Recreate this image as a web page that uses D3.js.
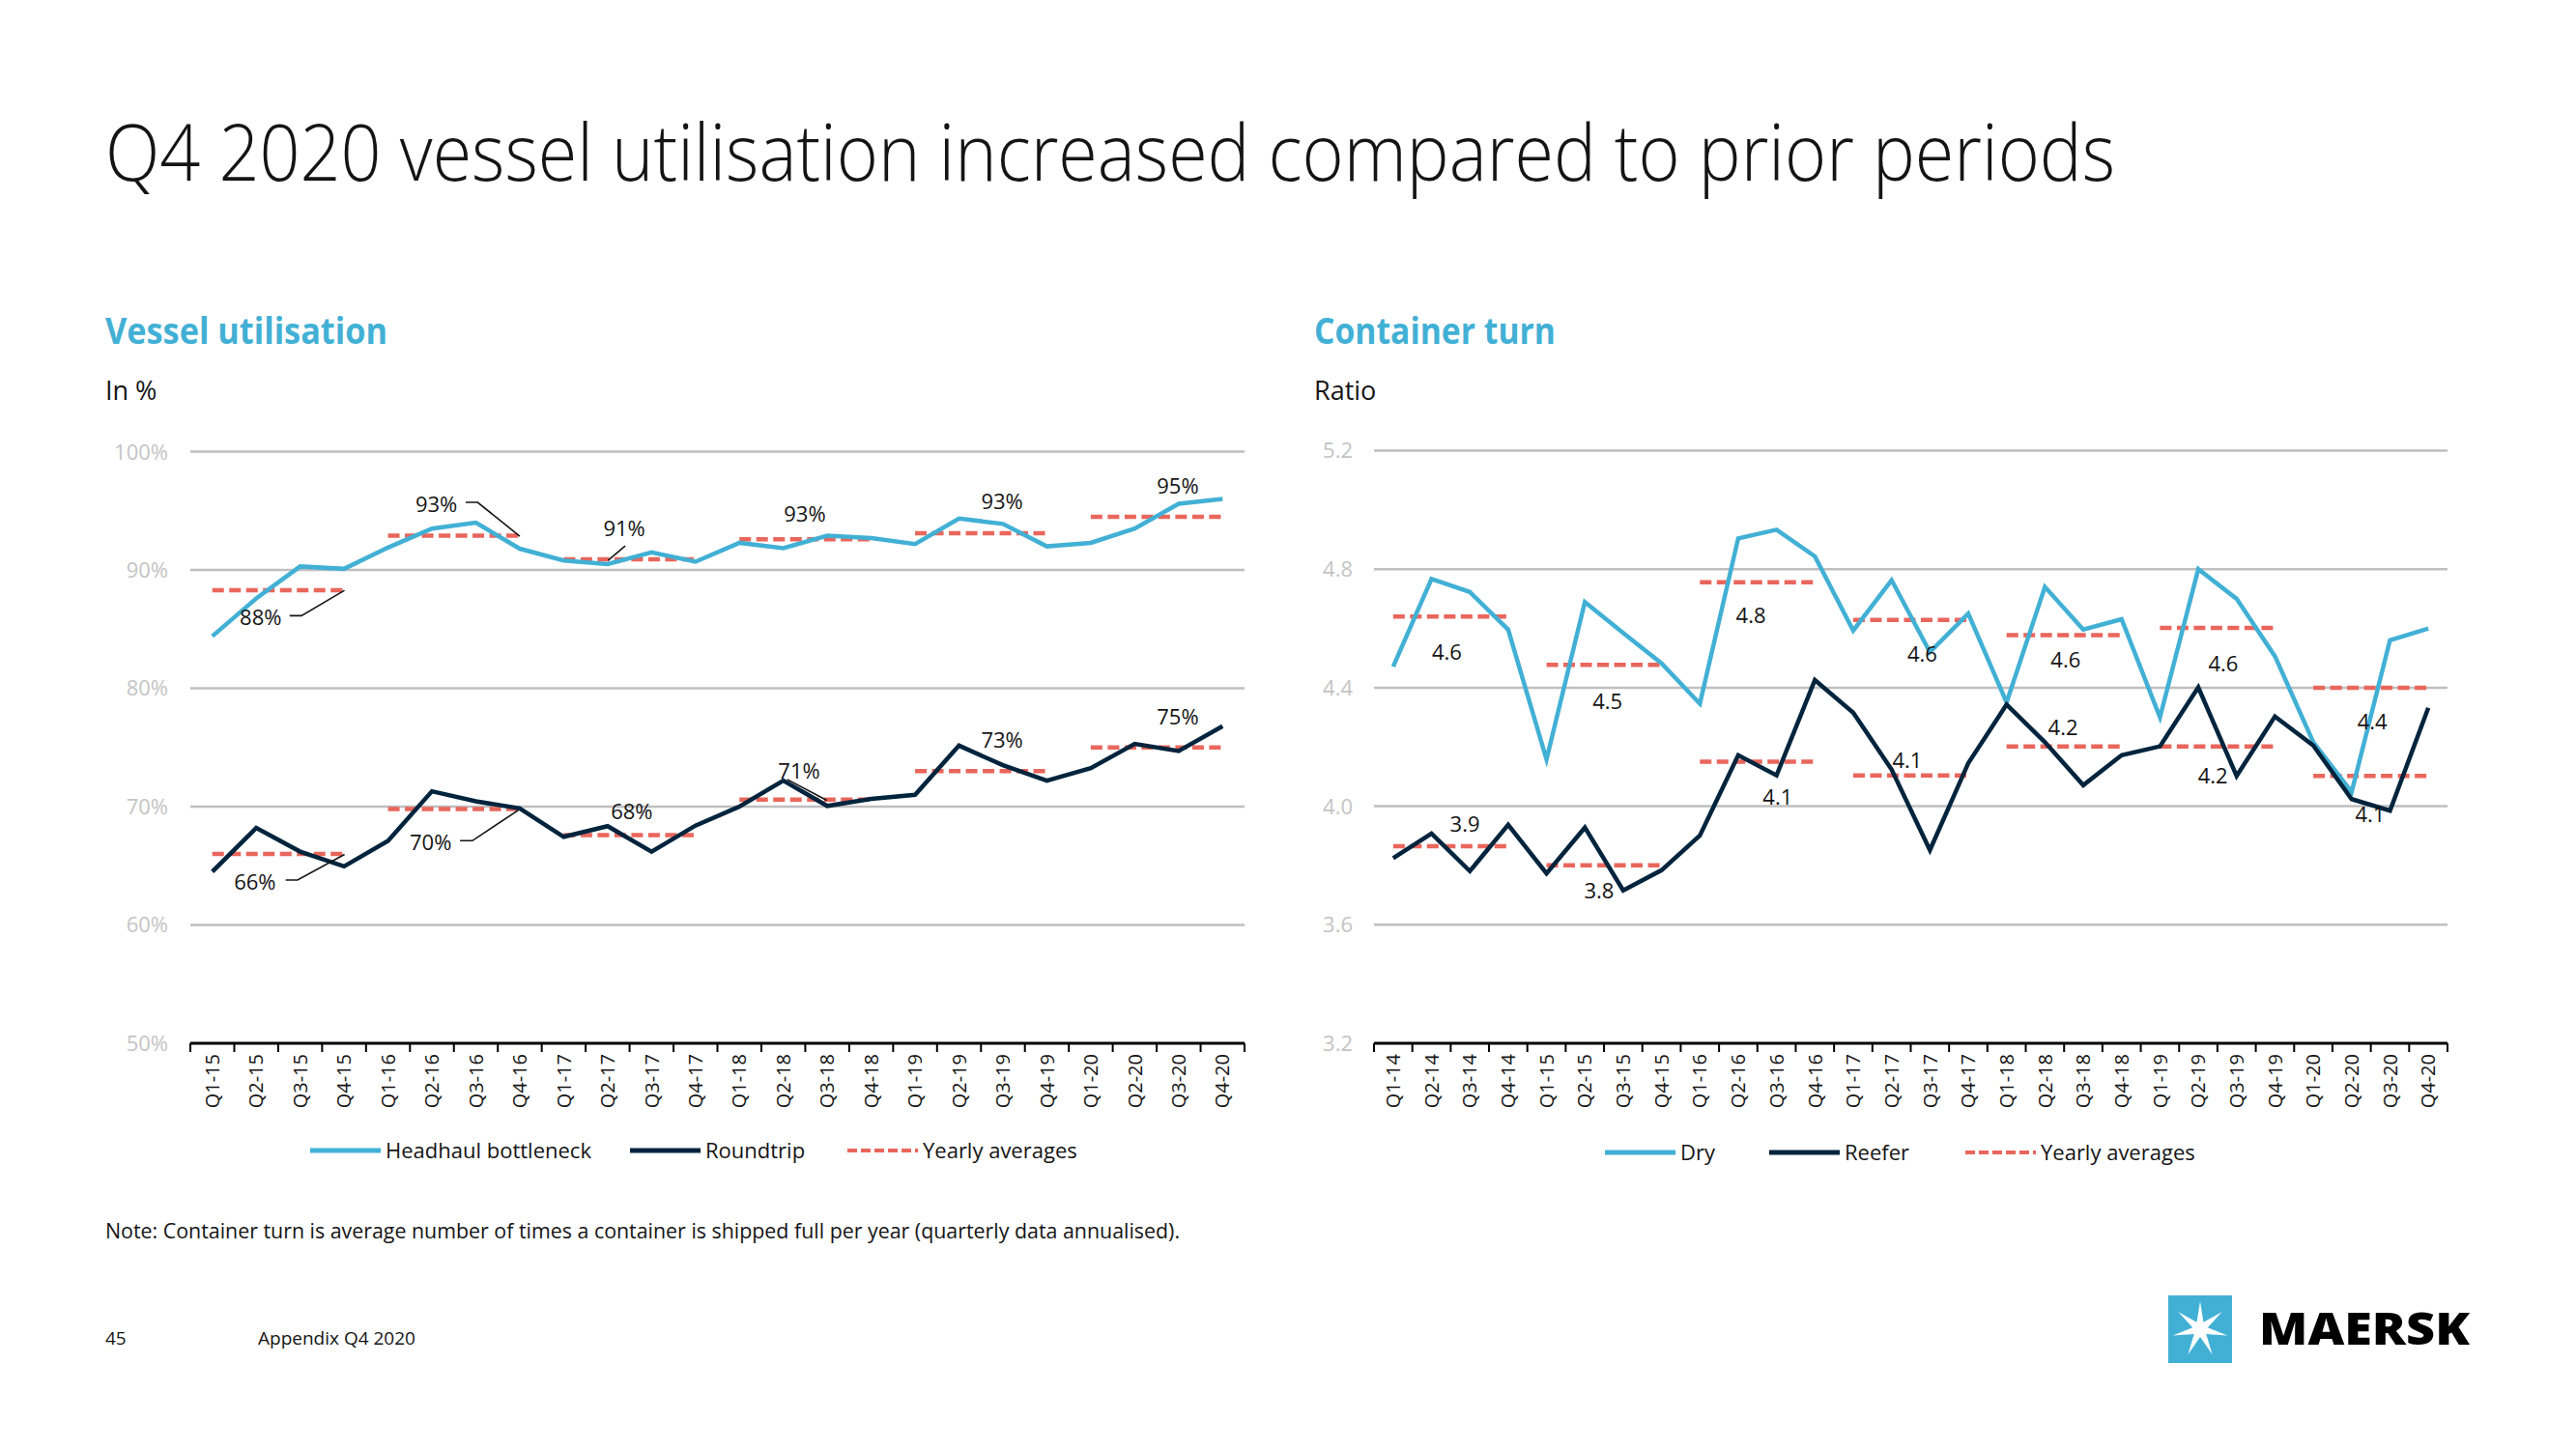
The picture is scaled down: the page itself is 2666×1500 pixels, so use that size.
<!DOCTYPE html>
<html>
<head>
<meta charset="utf-8">
<script src="https://cdn.jsdelivr.net/npm/d3@7/dist/d3.min.js"></script>
<style>
  html, body { margin: 0; padding: 0; background: #fff; }
  svg { display: block; }
  text { font-family: "Open Sans", "Noto Sans", sans-serif; }
</style>
</head>
<body>
<svg id="chart" width="2666" height="1500"></svg>
<script>
// ---------------- DATA ----------------
const quartersL = ["Q1-15","Q2-15","Q3-15","Q4-15","Q1-16","Q2-16","Q3-16","Q4-16","Q1-17","Q2-17","Q3-17","Q4-17",
                   "Q1-18","Q2-18","Q3-18","Q4-18","Q1-19","Q2-19","Q3-19","Q4-19","Q1-20","Q2-20","Q3-20","Q4-20"];
const headhaul  = [84.4, 87.6, 90.3, 90.1, 91.9, 93.5, 94.0, 91.8, 90.8, 90.5, 91.5, 90.7,
                   92.3, 91.85, 92.9, 92.7, 92.2, 94.35, 93.9, 92.0, 92.3, 93.5, 95.6, 96.0];
const roundtrip = [64.5, 68.2, 66.2, 64.95, 67.1, 71.3, 70.45, 69.85, 67.45, 68.35, 66.2, 68.4,
                   70.0, 72.2, 70.06, 70.66, 71.0, 75.16, 73.5, 72.2, 73.25, 75.3, 74.7, 76.8];
const headhaulAvg  = [88.3, 92.9, 90.9, 92.6, 93.1, 94.5];
const roundtripAvg = [66.0, 69.8, 67.6, 70.6, 73.0, 75.0];
const headhaulAvgLabels  = ["88%","93%","91%","93%","93%","95%"];
const roundtripAvgLabels = ["66%","70%","68%","71%","73%","75%"];
const yTicksL = [50, 60, 70, 80, 90, 100];
const yTickLabelsL = ["50%","60%","70%","80%","90%","100%"];

const quartersR = ["Q1-14","Q2-14","Q3-14","Q4-14","Q1-15","Q2-15","Q3-15","Q4-15","Q1-16","Q2-16","Q3-16","Q4-16",
                   "Q1-17","Q2-17","Q3-17","Q4-17","Q1-18","Q2-18","Q3-18","Q4-18","Q1-19","Q2-19","Q3-19","Q4-19",
                   "Q1-20","Q2-20","Q3-20","Q4-20"];
const dry    = [4.471, 4.767, 4.723, 4.596, 4.158, 4.689, 4.585, 4.482, 4.346, 4.904, 4.933, 4.843,
                4.593, 4.763, 4.52, 4.65, 4.35, 4.74, 4.596, 4.631, 4.30, 4.80, 4.70, 4.506,
                4.216, 4.048, 4.56, 4.60];
const reefer = [3.825, 3.908, 3.781, 3.937, 3.773, 3.928, 3.716, 3.784, 3.901, 4.172, 4.104, 4.426,
                4.316, 4.124, 3.852, 4.145, 4.343, 4.216, 4.071, 4.172, 4.202, 4.401, 4.102, 4.303,
                4.205, 4.024, 3.985, 4.332];
const dryAvg    = [4.64, 4.477, 4.756, 4.629, 4.577, 4.602, 4.40];
const reeferAvg = [3.865, 3.801, 4.15, 4.104, 4.202, 4.202, 4.102];
const dryAvgLabels    = ["4.6","4.5","4.8","4.6","4.6","4.6","4.4"];
const reeferAvgLabels = ["3.9","3.8","4.1","4.1","4.2","4.2","4.1"];
const yTicksR = [3.2, 3.6, 4.0, 4.4, 4.8, 5.2];
const yTickLabelsR = ["3.2","3.6","4.0","4.4","4.8","5.2"];

// ---------------- LAYOUT (label placement in data coords: [quarter index, value]) ----------------
const annotL = [
  {t: headhaulAvgLabels[0],  at: [1.10, 85.97], leader: [[1.76,86.14],[2.03,86.14],[3.01,88.28]]},
  {t: headhaulAvgLabels[1],  at: [5.10, 95.58], leader: [[5.77,95.72],[6.04,95.72],[7.0,92.86]]},
  {t: headhaulAvgLabels[2],  at: [9.38, 93.54], leader: [[9.40,92.04],[9.01,90.82]]},
  {t: headhaulAvgLabels[3],  at: [13.49, 94.76]},
  {t: headhaulAvgLabels[4],  at: [17.98, 95.80]},
  {t: headhaulAvgLabels[5],  at: [21.98, 97.13]},
  {t: roundtripAvgLabels[0], at: [0.97, 63.64], leader: [[1.67,63.8],[1.94,63.8],[3.01,65.96]]},
  {t: roundtripAvgLabels[1], at: [4.97, 66.99], leader: [[5.64,67.12],[5.92,67.12],[6.97,69.71]]},
  {t: roundtripAvgLabels[2], at: [9.55, 69.58]},
  {t: roundtripAvgLabels[3], at: [13.36, 72.98], leader: [[13.09,72.30],[13.99,70.53]]},
  {t: roundtripAvgLabels[4], at: [17.98, 75.62]},
  {t: roundtripAvgLabels[5], at: [21.98, 77.61]}
];
const annotR = [
  {t: dryAvgLabels[0], at: [1.40, 4.520]},
  {t: dryAvgLabels[1], at: [5.59, 4.354]},
  {t: dryAvgLabels[2], at: [9.33, 4.643]},
  {t: dryAvgLabels[3], at: [13.80, 4.513]},
  {t: dryAvgLabels[4], at: [17.54, 4.495]},
  {t: dryAvgLabels[5], at: [21.65, 4.482]},
  {t: dryAvgLabels[6], at: [25.54, 4.285]},
  {t: reeferAvgLabels[0], at: [1.87, 3.941]},
  {t: reeferAvgLabels[1], at: [5.37, 3.716]},
  {t: reeferAvgLabels[2], at: [10.03, 4.031]},
  {t: reeferAvgLabels[3], at: [13.41, 4.156]},
  {t: reeferAvgLabels[4], at: [17.47, 4.265]},
  {t: reeferAvgLabels[5], at: [21.38, 4.102]},
  {t: reeferAvgLabels[6], at: [25.48, 3.972]}
];

// ---------------- STYLE ----------------
const C_LIGHT = "#42b0d5", C_DARK = "#00243d", C_AVG = "#e9665c", C_GRID = "#bfbfbf", C_TICK = "#c4c4c4";

const svg = d3.select("#chart");

// Title and headings
svg.append("text").attr("x", 109).attr("y", 187).attr("font-size", 82).attr("font-weight", 300)
  .attr("fill", "#141414").attr("textLength", 2080).attr("lengthAdjust", "spacingAndGlyphs")
  .text("Q4 2020 vessel utilisation increased compared to prior periods");

function heading(x, title, titleLen, unit) {
  svg.append("text").attr("x", x).attr("y", 356).attr("font-size", 37).attr("font-weight", 700)
    .attr("fill", C_LIGHT).attr("textLength", titleLen).attr("lengthAdjust", "spacingAndGlyphs").text(title);
  svg.append("text").attr("x", x).attr("y", 414).attr("font-size", 27).attr("fill", "#141414").text(unit);
}
heading(109, "Vessel utilisation", 292, "In %");
heading(1360, "Container turn", 250, "Ratio");

function drawPanel(cfg) {
  const g = svg.append("g");
  const x = d3.scaleBand(cfg.quarters, cfg.xRange);
  const cx = i => x(cfg.quarters[0]) + x.bandwidth() / 2 + i * x.step();
  const y = d3.scaleLinear(cfg.yDomain, cfg.yRange);

  // gridlines
  g.selectAll(".grid").data(cfg.yTicks.slice(1)).join("line")
    .attr("x1", cfg.xRange[0]).attr("x2", cfg.xRange[1])
    .attr("y1", d => y(d)).attr("y2", d => y(d))
    .attr("stroke", C_GRID).attr("stroke-width", 2.5);

  // y tick labels
  g.selectAll(".ylab").data(cfg.yTicks).join("text")
    .attr("x", cfg.yLabelX).attr("y", d => y(d)).attr("dy", "0.36em")
    .attr("text-anchor", "end").attr("font-size", 22).attr("fill", C_TICK)
    .text((d, i) => cfg.yTickLabels[i]);

  // bottom axis with boundary ticks
  const axisY = y(cfg.yDomain[0]);
  g.append("line").attr("x1", cfg.xRange[0]).attr("x2", cfg.xRange[1])
    .attr("y1", axisY).attr("y2", axisY).attr("stroke", "#000").attr("stroke-width", 3);
  const bounds = d3.range(cfg.quarters.length + 1).map(i => cfg.xRange[0] + i * x.step());
  g.selectAll(".btick").data(bounds).join("line")
    .attr("x1", d => d).attr("x2", d => d).attr("y1", axisY).attr("y2", axisY + 9)
    .attr("stroke", "#000").attr("stroke-width", 2);
  g.selectAll(".xlab").data(cfg.quarters).join("text")
    .attr("transform", d => `translate(${x(d) + x.bandwidth() / 2},${axisY + 11}) rotate(-90)`)
    .attr("text-anchor", "end").attr("dy", "0.36em").attr("font-size", 20).attr("fill", "#141414")
    .text(d => d);

  // yearly averages
  cfg.avgs.forEach(a => {
    g.selectAll(null).data(a).join("line")
      .attr("x1", (d, i) => cx(i * 4)).attr("x2", (d, i) => cx(i * 4 + 3))
      .attr("y1", d => y(d)).attr("y2", d => y(d))
      .attr("stroke", C_AVG).attr("stroke-width", 4.5).attr("stroke-dasharray", "12 5.5");
  });

  // series lines
  const line = d3.line().x((d, i) => cx(i)).y(d => y(d));
  cfg.series.forEach(s => {
    g.append("path").datum(s.values).attr("d", line).attr("fill", "none")
      .attr("stroke", s.color).attr("stroke-width", s.width).attr("stroke-linejoin", "miter");
  });

  // annotations
  cfg.annot.forEach(a => {
    if (a.leader) {
      g.append("path").attr("d", d3.line().x(p => cx(p[0])).y(p => y(p[1]))(a.leader))
        .attr("fill", "none").attr("stroke", "#141414").attr("stroke-width", 1.6);
    }
    g.append("text").attr("x", cx(a.at[0])).attr("y", y(a.at[1])).attr("dy", "0.36em")
      .attr("text-anchor", "middle").attr("font-size", 22).attr("fill", "#141414").text(a.t);
  });

  // legend
  cfg.legend.forEach(l => {
    g.append("line").attr("x1", l.x).attr("x2", l.x + 73).attr("y1", cfg.legendY).attr("y2", cfg.legendY)
      .attr("stroke", l.color).attr("stroke-width", l.dash ? 4 : 5)
      .attr("stroke-dasharray", l.dash ? "10 4" : null);
    g.append("text").attr("x", l.x + 78).attr("y", cfg.legendY).attr("dy", "0.36em")
      .attr("font-size", 22).attr("fill", "#141414").text(l.t);
  });
}

drawPanel({
  quarters: quartersL, xRange: [197, 1288], yDomain: [50, 100], yRange: [1080, 467.6],
  yTicks: yTicksL, yTickLabels: yTickLabelsL, yLabelX: 174,
  avgs: [headhaulAvg, roundtripAvg],
  series: [{values: headhaul, color: C_LIGHT, width: 4.5}, {values: roundtrip, color: C_DARK, width: 4.5}],
  annot: annotL, legendY: 1191,
  legend: [{x: 321, color: C_LIGHT, t: "Headhaul bottleneck"},
           {x: 652, color: C_DARK, t: "Roundtrip"},
           {x: 877, color: C_AVG, t: "Yearly averages", dash: true}]
});

drawPanel({
  quarters: quartersR, xRange: [1422, 2533], yDomain: [3.2, 5.2], yRange: [1080, 466.5],
  yTicks: yTicksR, yTickLabels: yTickLabelsR, yLabelX: 1400,
  avgs: [dryAvg, reeferAvg],
  series: [{values: dry, color: C_LIGHT, width: 4.5}, {values: reefer, color: C_DARK, width: 4.5}],
  annot: annotR, legendY: 1193,
  legend: [{x: 1661, color: C_LIGHT, t: "Dry"},
           {x: 1831, color: C_DARK, t: "Reefer"},
           {x: 2034, color: C_AVG, t: "Yearly averages", dash: true}]
});

// Note & footer
svg.append("text").attr("x", 109).attr("y", 1282).attr("font-size", 22).attr("fill", "#141414")
  .attr("textLength", 1112).attr("lengthAdjust", "spacingAndGlyphs")
  .text("Note: Container turn is average number of times a container is shipped full per year (quarterly data annualised).");
svg.append("text").attr("x", 109).attr("y", 1392).attr("font-size", 19).attr("fill", "#141414").text("45");
svg.append("text").attr("x", 267).attr("y", 1392).attr("font-size", 19).attr("fill", "#141414").text("Appendix Q4 2020");

// Maersk logo
const logo = svg.append("g");
logo.append("rect").attr("x", 2244).attr("y", 1341).attr("width", 66).attr("height", 70).attr("fill", C_LIGHT);
const starPts = d3.range(14).map(i => {
  const r = i % 2 === 0 ? 29 : 8;
  const a = -Math.PI / 2 + i * Math.PI / 7;
  return [2277 + r * Math.cos(a), 1376 + r * Math.sin(a)];
});
logo.append("polygon").attr("points", starPts.map(p => p.join(",")).join(" ")).attr("fill", "#fff");
logo.append("text").attr("x", 2338).attr("y", 1392).attr("font-size", 46).attr("font-weight", 800)
  .attr("font-family", "Roboto, 'Noto Sans', sans-serif").attr("fill", "#000")
  .attr("textLength", 218).attr("lengthAdjust", "spacingAndGlyphs").text("MAERSK");
</script>
</body>
</html>
